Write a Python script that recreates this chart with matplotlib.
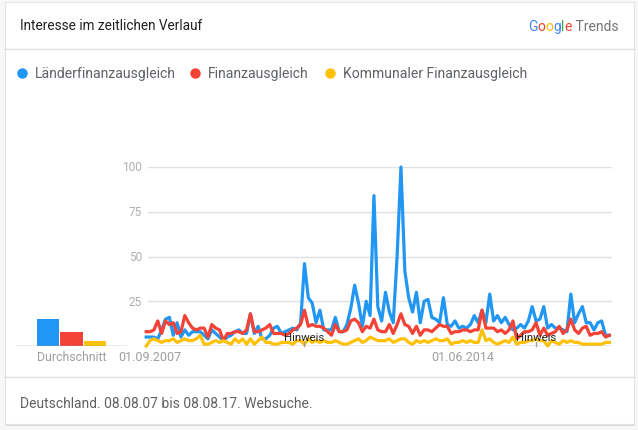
import numpy as np
import pandas as pd
import matplotlib
matplotlib.use("Agg")
import matplotlib.pyplot as plt
from matplotlib.patches import Rectangle

# monthly values, Aug 2007 .. Aug 2017
months = pd.date_range("2007-08-01", "2017-08-01", freq="MS")

laenderfinanzausgleich = [
    5, 5, 5, 4, 9, 15, 16, 6, 13, 5, 9, 6, 8, 8, 8, 6, 4, 9, 7, 5,
    3, 5, 6, 8, 9, 7, 7, 18, 7, 11, 4,
    4, 6, 10, 11, 7, 8, 9, 10, 9, 13, 46, 27, 24, 13, 20, 9, 9, 9, 16, 8,
    8, 12, 21, 34, 24, 11, 25, 17, 84, 22,
    14, 30, 19, 13, 50, 100, 42, 27, 19, 30, 13, 25, 26, 16, 15, 13, 27, 12, 11, 14,
    10, 11, 10, 12, 17, 13, 20, 13, 29, 14,
    17, 13, 16, 12, 9, 10, 12, 10, 14, 22, 14, 15, 22, 10, 12, 10, 10, 9, 8, 29,
    13, 18, 22, 13, 13, 9, 13, 14, 6, 6,
]
finanzausgleich = [
    8, 8, 9, 14, 7, 14, 12, 13, 7, 8, 17, 13, 10, 9, 10, 10, 5, 12, 10, 9,
    3, 7, 7, 8, 8, 7, 9, 18, 8, 8, 9,
    10, 12, 7, 7, 7, 6, 7, 9, 10, 12, 20, 11, 12, 11, 11, 10, 8, 6, 12, 8,
    8, 9, 14, 15, 13, 8, 11, 10, 15, 9,
    8, 8, 12, 7, 12, 18, 12, 11, 7, 11, 6, 9, 9, 8, 10, 12, 11, 11, 7, 8,
    8, 9, 9, 8, 9, 9, 20, 10, 10, 10,
    8, 9, 7, 9, 14, 4, 6, 8, 8, 9, 13, 6, 10, 6, 7, 8, 11, 7, 9, 15,
    9, 7, 10, 11, 6, 7, 7, 8, 5, 6,
]
kommunaler_finanzausgleich = [
    0, 3, 4, 3, 2, 3, 3, 4, 2, 3, 4, 3, 3, 4, 6, 1, 1, 2, 3, 2,
    3, 2, 1, 4, 2, 4, 1, 4, 1, 3, 5,
    2, 2, 1, 1, 2, 2, 2, 1, 3, 3, 1, 4, 2, 3, 2, 3, 2, 2, 3, 2,
    1, 1, 2, 3, 4, 2, 3, 5, 4, 3,
    3, 3, 4, 2, 3, 4, 4, 2, 1, 3, 2, 3, 2, 3, 4, 3, 3, 4, 1, 2,
    2, 3, 2, 3, 2, 2, 9, 3, 4, 2,
    1, 2, 3, 2, 5, 1, 2, 2, 3, 3, 4, 3, 3, 0, 3, 2, 1, 3, 2, 3,
    2, 2, 1, 1, 1, 1, 1, 1, 2, 2,
]
series_names = ["Länderfinanzausgleich", "Finanzausgleich", "Kommunaler Finanzausgleich"]
averages = [15, 8, 3]

yticks = [25, 50, 75, 100]
xtick_dates = ["2007-09-01", "2014-06-01"]
xtick_labels = ["01.09.2007", "01.06.2014"]
hinweis_dates = ["2011-01-01", "2016-01-01"]

colors = ["#2196F3", "#F44336", "#FFC107"]

W, H = 638, 431
plt.rcParams["font.family"] = ["Roboto", "DejaVu Sans"]

fig = plt.figure(figsize=(W / 100, H / 100), dpi=100)
fig.patch.set_facecolor("#f7f7f7")


def fx(x):
    return x / W


def fy(y):
    return 1 - y / H


def box(x0, y0, x1, y1):
    return [fx(x0), fy(y1), (x1 - x0) / W, (y1 - y0) / H]


# card with a soft shadow (behind the axes)
fig.patches.append(Rectangle((fx(6), fy(427)), 629 / W, 423 / H, transform=fig.transFigure,
                             facecolor="#d9d9d9", edgecolor="none", zorder=-3))
fig.patches.append(Rectangle((fx(5), fy(425)), 629 / W, 422 / H, transform=fig.transFigure,
                             facecolor="white", edgecolor="#e3e3e3", lw=0.8, zorder=-2))
for y in (50, 378):
    fig.add_artist(plt.Line2D([fx(5), fx(634)], [fy(y), fy(y)], color="#e0e0e0", lw=1,
                              zorder=-1))

fig.text(fx(20), fy(26), "Interesse im zeitlichen Verlauf", fontsize=9.8, color="#212121",
         va="center", ha="left")
fig.text(fx(20), fy(404), "Deutschland. 08.08.07 bis 08.08.17. Websuche.", fontsize=10,
         color="#616161", va="center", ha="left")

# Google Trends logo, letter by letter
fig.canvas.draw()
renderer = fig.canvas.get_renderer()
logo = [("G", "#4285F4"), ("o", "#EA4335"), ("o", "#FBBC05"), ("g", "#4285F4"),
        ("l", "#34A853"), ("e", "#EA4335"), (" Trends", "#757575")]
xpos = 528
for ch, col in logo:
    t = fig.text(fx(xpos), fy(27), ch, fontsize=10, color=col, va="center", ha="left")
    xpos += t.get_window_extent(renderer).width

# legend
legend_x = [22, 195, 330]
for name, col, lx in zip(series_names, colors, legend_x):
    fig.add_artist(plt.Line2D([fx(lx)], [fy(74)], marker="o", markersize=7.5, color=col,
                              markeredgewidth=0))
    fig.text(fx(lx + 13), fy(74), name, fontsize=10.1, color="#5f6368", va="center", ha="left")

# main timeline
ax = fig.add_axes(box(146.2, 168, 612, 347))
x = np.arange(len(months))
for vals, col in zip([laenderfinanzausgleich, finanzausgleich, kommunaler_finanzausgleich], colors):
    ax.plot(x, vals, color=col, lw=2.3, clip_on=False, solid_joinstyle="round", zorder=3)
ax.set_xlim(0, (612 - 146.2) / 3.86)
ax.set_ylim(0, 100)
for v in yticks:
    ax.axhline(v, xmin=(148 - 146.2) / (612 - 146.2), color="#e0e0e0", lw=1, zorder=1)
    ax.text(-1.1, v, str(v), ha="right", va="center", fontsize=8.6, color="#b0b0b0")
ax.axhline(0, color="#9e9e9e", lw=1, zorder=4)
for d, lab in zip(xtick_dates, xtick_labels):
    i = months.get_loc(pd.Timestamp(d))
    ax.text(i, -2.5, lab, ha="center", va="top", fontsize=9, color="#9e9e9e")
for d in hinweis_dates:
    i = months.get_loc(pd.Timestamp(d))
    ax.plot([i, i], [0, 2.5], color="#9e9e9e", lw=1, zorder=4, clip_on=False)
    ax.text(i, 5, "Hinweis", ha="center", va="center", fontsize=8.2, color="#222222", zorder=5)
ax.axis("off")

# average bars
bx = fig.add_axes(box(16, 168, 127, 347))
bx.bar(np.arange(3), averages, width=0.95, color=colors, zorder=2)
bx.set_xlim(-1.39, 3.39)
bx.set_ylim(0, 100)
bx.axhline(0, color="#9e9e9e", lw=1, zorder=3)
bx.text(1, -2.5, "Durchschnitt", ha="center", va="top", fontsize=8.8, color="#9e9e9e")
bx.axis("off")

fig.savefig("out.png", dpi=100, facecolor=fig.get_facecolor())
